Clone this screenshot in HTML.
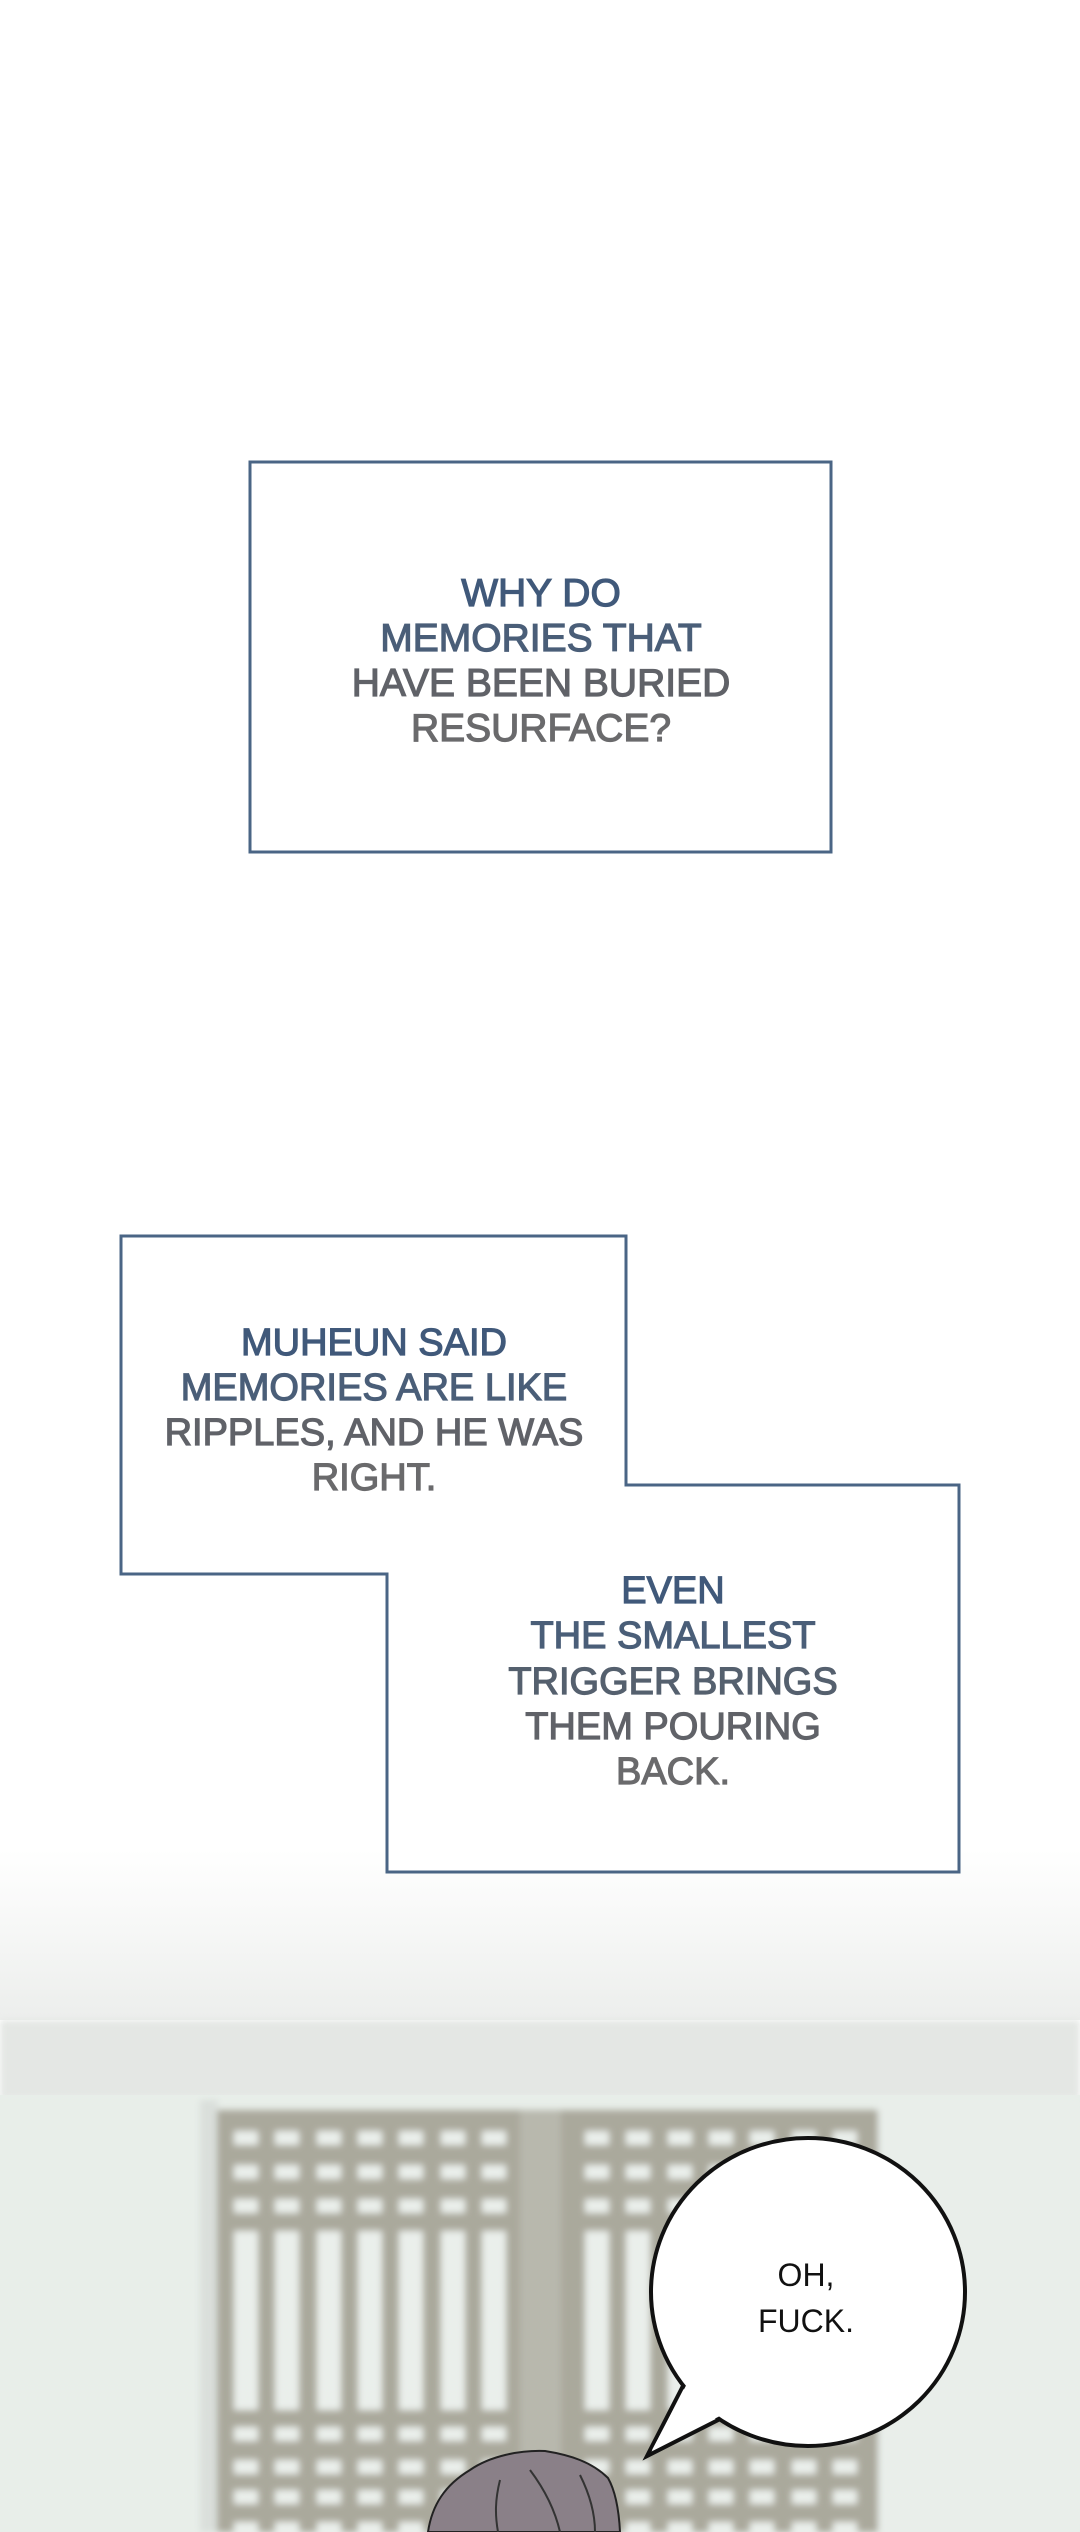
<!DOCTYPE html>
<html><head><meta charset="utf-8"><style>
html,body{margin:0;padding:0;background:#fff}
svg{display:block}
text{font-family:"Liberation Sans",sans-serif;text-anchor:middle}
</style></head><body>
<svg width="1080" height="2532" viewBox="0 0 1080 2532" xmlns="http://www.w3.org/2000/svg">
<defs>
<linearGradient id="bg" x1="0" y1="0" x2="0" y2="1">
<stop offset="0" stop-color="#ffffff"/>
<stop offset="1" stop-color="#eceeec"/>
</linearGradient>
<filter id="blur"><feGaussianBlur stdDeviation="3.5"/></filter>
</defs>
<rect width="1080" height="2532" fill="#fff"/>
<rect y="1850" width="1080" height="170" fill="url(#bg)"/>
<rect y="2020" width="1080" height="80" fill="#e4e7e4" filter="url(#blur)"/>
<rect y="2095" width="1080" height="437" fill="#e8eee9"/>
<g filter="url(#blur)">
<rect x="200" y="2100" width="18" height="432" fill="#dadfdb"/>
<rect x="217" y="2110" width="661" height="422" fill="#aaa99c"/>
<rect x="520" y="2110" width="41" height="422" fill="#b8b8ad"/>
<g fill="#eaefeb">
<g id="p1">
<rect x="234" y="2131" width="24" height="14"/><rect x="275" y="2131" width="24" height="14"/><rect x="317" y="2131" width="24" height="14"/><rect x="358" y="2131" width="24" height="14"/><rect x="399" y="2131" width="24" height="14"/><rect x="441" y="2131" width="24" height="14"/><rect x="482" y="2131" width="24" height="14"/>
<rect x="234" y="2165" width="24" height="14"/><rect x="275" y="2165" width="24" height="14"/><rect x="317" y="2165" width="24" height="14"/><rect x="358" y="2165" width="24" height="14"/><rect x="399" y="2165" width="24" height="14"/><rect x="441" y="2165" width="24" height="14"/><rect x="482" y="2165" width="24" height="14"/>
<rect x="234" y="2199" width="24" height="14"/><rect x="275" y="2199" width="24" height="14"/><rect x="317" y="2199" width="24" height="14"/><rect x="358" y="2199" width="24" height="14"/><rect x="399" y="2199" width="24" height="14"/><rect x="441" y="2199" width="24" height="14"/><rect x="482" y="2199" width="24" height="14"/>
<rect x="234" y="2231" width="24" height="179"/><rect x="275" y="2231" width="24" height="179"/><rect x="317" y="2231" width="24" height="179"/><rect x="358" y="2231" width="24" height="179"/><rect x="399" y="2231" width="24" height="179"/><rect x="441" y="2231" width="24" height="179"/><rect x="482" y="2231" width="24" height="179"/>
<rect x="234" y="2427" width="24" height="14"/><rect x="275" y="2427" width="24" height="14"/><rect x="317" y="2427" width="24" height="14"/><rect x="358" y="2427" width="24" height="14"/><rect x="399" y="2427" width="24" height="14"/><rect x="441" y="2427" width="24" height="14"/><rect x="482" y="2427" width="24" height="14"/>
<rect x="234" y="2460" width="24" height="14"/><rect x="275" y="2460" width="24" height="14"/><rect x="317" y="2460" width="24" height="14"/><rect x="358" y="2460" width="24" height="14"/><rect x="399" y="2460" width="24" height="14"/><rect x="441" y="2460" width="24" height="14"/><rect x="482" y="2460" width="24" height="14"/>
<rect x="234" y="2490" width="24" height="14"/><rect x="275" y="2490" width="24" height="14"/><rect x="317" y="2490" width="24" height="14"/><rect x="358" y="2490" width="24" height="14"/><rect x="399" y="2490" width="24" height="14"/><rect x="441" y="2490" width="24" height="14"/><rect x="482" y="2490" width="24" height="14"/>
<rect x="234" y="2522" width="24" height="14"/><rect x="275" y="2522" width="24" height="14"/><rect x="317" y="2522" width="24" height="14"/><rect x="358" y="2522" width="24" height="14"/><rect x="399" y="2522" width="24" height="14"/><rect x="441" y="2522" width="24" height="14"/><rect x="482" y="2522" width="24" height="14"/>
</g>
<use href="#p1" x="351"/>
</g>
<rect x="878" y="2100" width="202" height="432" fill="#e9eeea"/>
</g>
<!-- box 1 -->
<rect x="250" y="462" width="581" height="390" fill="#fff" stroke="#4a6585" stroke-width="3"/>
<g font-size="39" stroke-width="1.2">
<text x="541" y="606" fill="#40597a" stroke="#40597a">WHY DO</text>
<text x="541" y="651" fill="#4a5e78" stroke="#4a5e78">MEMORIES THAT</text>
<text x="541" y="696" fill="#606268" stroke="#606268">HAVE BEEN BURIED</text>
<text x="541" y="741" fill="#6a6a6c" stroke="#6a6a6c">RESURFACE?</text>
</g>
<!-- box 2 L-shape -->
<path d="M121 1236 H626 V1485 H959 V1872 H387 V1574 H121 Z" fill="#fff" stroke="#4a6585" stroke-width="3"/>
<g font-size="38" stroke-width="1.2">
<text x="374" y="1355" fill="#40597a" stroke="#40597a">MUHEUN SAID</text>
<text x="374" y="1400" fill="#4a5e78" stroke="#4a5e78">MEMORIES ARE LIKE</text>
<text x="374" y="1445" fill="#606268" stroke="#606268">RIPPLES, AND HE WAS</text>
<text x="374" y="1490" fill="#6a6a6c" stroke="#6a6a6c">RIGHT.</text>
<text x="673" y="1603" fill="#40597a" stroke="#40597a">EVEN</text>
<text x="673" y="1648" fill="#4a5e78" stroke="#4a5e78">THE SMALLEST</text>
<text x="673" y="1694" fill="#55606e" stroke="#55606e">TRIGGER BRINGS</text>
<text x="673" y="1739" fill="#606268" stroke="#606268">THEM POURING</text>
<text x="673" y="1784" fill="#6a6a6c" stroke="#6a6a6c">BACK.</text>
</g>
<!-- bubble -->
<polygon points="686,2380 647,2456 722,2418" fill="#fff" stroke="#111" stroke-width="4" stroke-linejoin="miter"/>
<ellipse cx="808" cy="2292" rx="157" ry="154" fill="#fff" stroke="#111" stroke-width="4"/>
<polygon points="690,2378 652,2450 724,2414" fill="#fff"/>
<g font-size="32" fill="#111">
<text x="806" y="2286">OH,</text>
<text x="806" y="2332">FUCK.</text>
</g>
<!-- hair -->
<path d="M428 2532 C432 2505 445 2485 470 2470 C490 2456 520 2450 545 2451 C570 2455 592 2462 608 2478 C616 2492 619 2512 620 2532 Z" fill="#8a8088" stroke="#222" stroke-width="2"/>
<path d="M530 2470 C545 2490 555 2510 560 2532 M500 2480 C495 2500 495 2515 498 2532 M580 2475 C590 2495 595 2515 595 2532" fill="none" stroke="#333" stroke-width="2"/>
</svg>
</body></html>
